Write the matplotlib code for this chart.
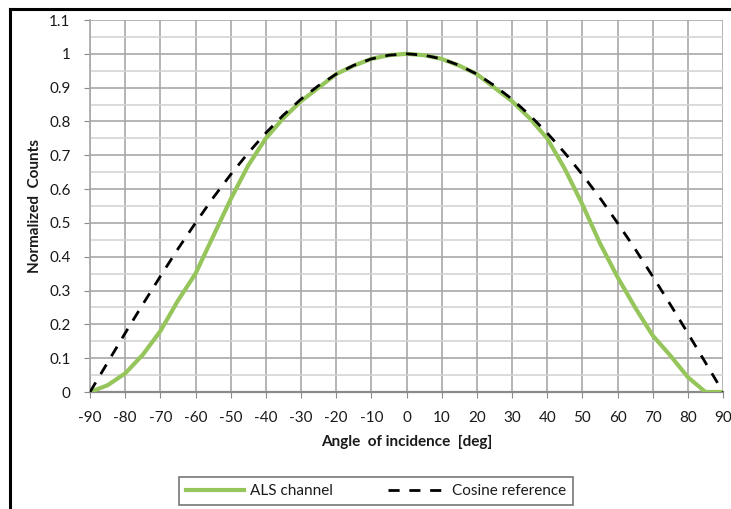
import matplotlib.pyplot as plt
import numpy as np
from matplotlib.lines import Line2D

plt.rcParams['font.family'] = ['Lato', 'DejaVu Sans']
plt.rcParams['axes.unicode_minus'] = False

# angle of incidence [deg], 5 deg steps
angles = [-90, -85, -80, -75, -70, -65, -60, -55, -50, -45, -40, -35, -30, -25, -20, -15, -10, -5, 0,
          5, 10, 15, 20, 25, 30, 35, 40, 45, 50, 55, 60, 65, 70, 75, 80, 85, 90]
als_channel = [0.0, 0.02, 0.055, 0.11, 0.18, 0.27, 0.35, 0.46, 0.57, 0.67, 0.75, 0.81, 0.86, 0.90, 0.94,
               0.965, 0.985, 0.996, 1.0, 0.996, 0.985, 0.965, 0.94, 0.90, 0.86, 0.81, 0.75, 0.66, 0.555,
               0.44, 0.34, 0.25, 0.167, 0.108, 0.044, 0.0, 0.0]
cosine_ref = [0.0, 0.087, 0.174, 0.259, 0.342, 0.423, 0.5, 0.574, 0.643, 0.707, 0.766, 0.819, 0.866, 0.906,
              0.94, 0.966, 0.985, 0.996, 1.0, 0.996, 0.985, 0.966, 0.94, 0.906, 0.866, 0.819, 0.766, 0.707,
              0.643, 0.574, 0.5, 0.423, 0.342, 0.259, 0.174, 0.087, 0.0]

x_ticks = list(range(-90, 91, 10))
y_ticks = [0, 0.1, 0.2, 0.3, 0.4, 0.5, 0.6, 0.7, 0.8, 0.9, 1, 1.1]
y_labels = ['0', '0.1', '0.2', '0.3', '0.4', '0.5', '0.6', '0.7', '0.8', '0.9', '1', '1.1']

green = '#95C55B'
text_col = '#1a1a1a'

fig = plt.figure(figsize=(7.31, 5.09), dpi=100)
ax = fig.add_axes([90 / 731, 1 - 392 / 509, 633 / 731, 372 / 509])

ax.set_xlim(-90, 90)
ax.set_ylim(0, 1.1)

# grid: major at 0.1 / 10 deg, lighter minor at 0.05
ax.set_xticks(x_ticks)
ax.set_yticks(y_ticks)
ax.set_yticklabels(y_labels)
ax.set_yticks(np.arange(0.05, 1.1, 0.1), minor=True)
ax.grid(which='major', color='#a8a8a8', lw=1.2)
ax.grid(which='minor', axis='y', color='#d4d4d4', lw=1.2)
ax.set_axisbelow(True)

for side in ['top', 'right']:
    ax.spines[side].set_visible(False)
ax.spines['bottom'].set_color('#8a8a8a')
ax.spines['bottom'].set_linewidth(1.6)
ax.spines['left'].set_color('#a8a8a8')
ax.spines['left'].set_linewidth(1.2)

ax.tick_params(axis='both', which='major', direction='out', length=4, color='#8a8a8a',
               labelsize=11, labelcolor=text_col)
ax.tick_params(axis='x', pad=10)
ax.tick_params(axis='y', pad=10)
ax.tick_params(which='minor', length=0)

ax.plot(angles, als_channel, color=green, lw=3, solid_joinstyle='round', zorder=3)
ax.plot(angles, cosine_ref, color='black', lw=2, dashes=(4, 3.5), zorder=4)

ax.set_xlabel('Angle  of incidence  [deg]', fontsize=11, fontweight='bold', color=text_col, labelpad=7)
ax.set_ylabel('Normalized  Counts', fontsize=11, fontweight='bold', color=text_col, labelpad=5)

# outer frame of the original chart (cropped on right/bottom)
fig.add_artist(Line2D([10 / 731, 10 / 731], [0, 1 - 9 / 509], color='black', lw=2.2,
                      transform=fig.transFigure))
fig.add_artist(Line2D([10 / 731, 1], [1 - 9 / 509, 1 - 9 / 509], color='black', lw=2.2,
                      transform=fig.transFigure))

handles = [Line2D([], [], color=green, lw=3),
           Line2D([], [], color='black', lw=2, dashes=(4, 3.5))]
leg = fig.legend(handles, ['ALS channel', 'Cosine reference'], loc='center',
                 bbox_to_anchor=(376 / 731, 1 - 491 / 509), ncol=2, frameon=True, fancybox=False,
                 fontsize=11, handlelength=3.8, columnspacing=3.6, borderpad=0.45, handletextpad=0.4)
leg.get_frame().set_edgecolor('#555555')
leg.get_frame().set_linewidth(1.2)
for t in leg.get_texts():
    t.set_color(text_col)

fig.savefig('out.png', dpi=100)
